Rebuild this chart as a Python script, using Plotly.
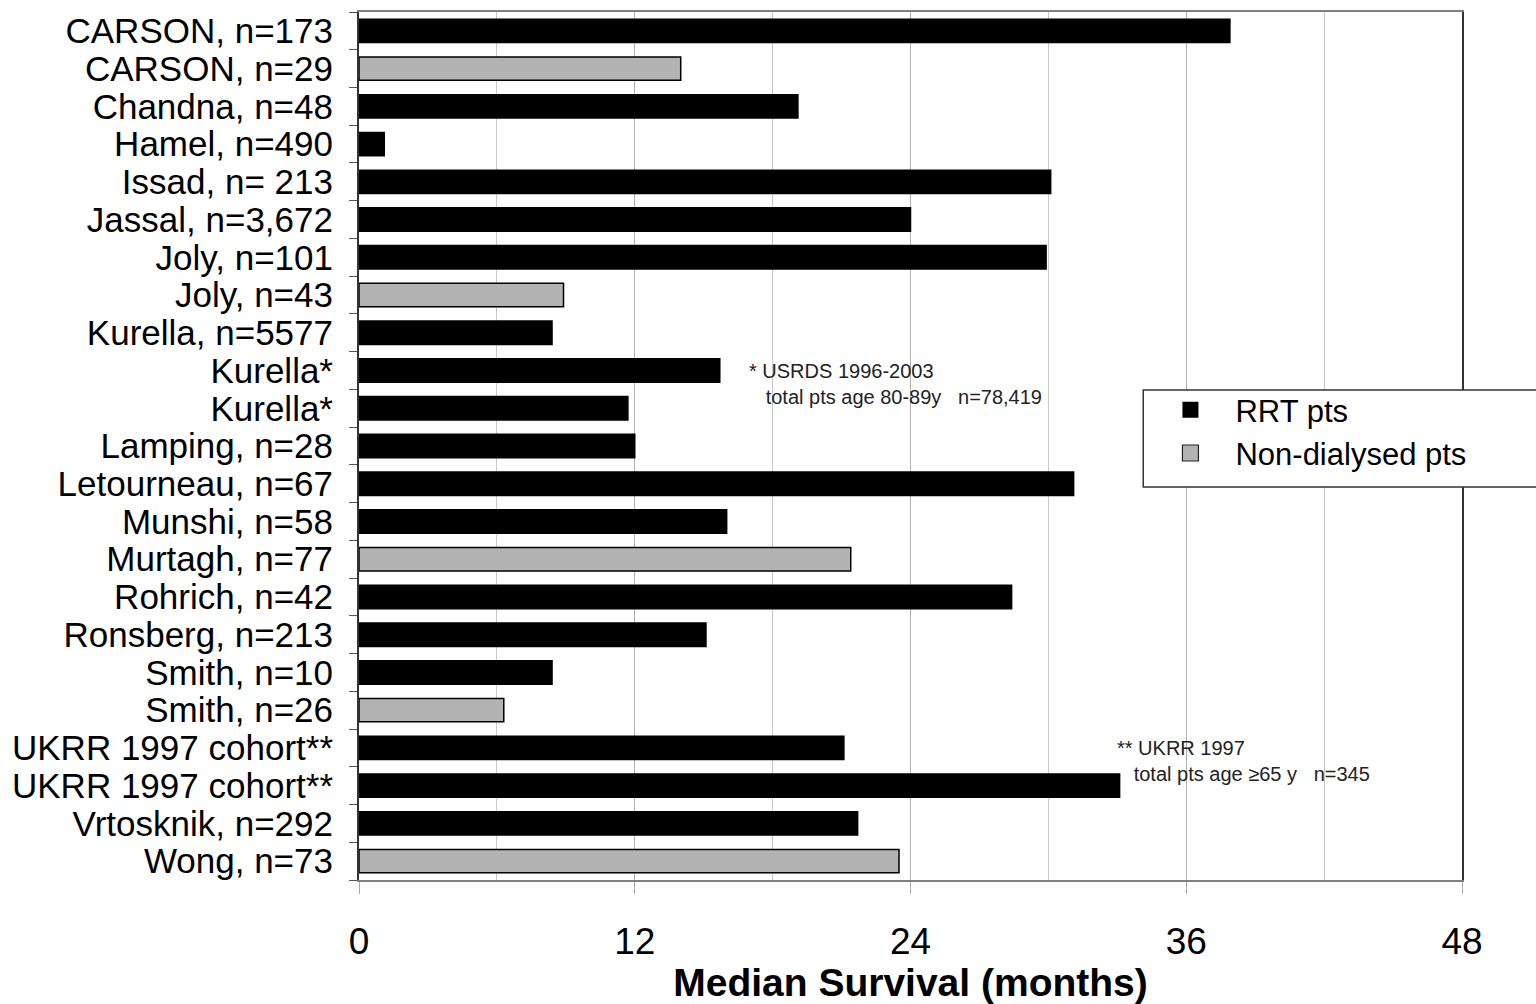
import plotly.graph_objects as go

labels = ["CARSON, n=173", "CARSON, n=29", "Chandna, n=48", "Hamel, n=490", "Issad, n= 213",
          "Jassal, n=3,672", "Joly, n=101", "Joly, n=43", "Kurella, n=5577", "Kurella*",
          "Kurella*", "Lamping, n=28", "Letourneau, n=67", "Munshi, n=58", "Murtagh, n=77",
          "Rohrich, n=42", "Ronsberg, n=213", "Smith, n=10", "Smith, n=26", "UKRR 1997 cohort**",
          "UKRR 1997 cohort**", "Vrtosknik, n=292", "Wong, n=73"]
survival = [37.9, 14.0, 19.1, 1.1, 30.1, 24.0, 29.9, 8.9, 8.4, 15.7,
            11.7, 12.0, 31.1, 16.0, 21.4, 28.4, 15.1, 8.4, 6.3, 21.1,
            33.1, 21.7, 23.5]
group = ["RRT", "ND", "RRT", "RRT", "RRT", "RRT", "RRT", "ND", "RRT", "RRT",
         "RRT", "RRT", "RRT", "RRT", "ND", "RRT", "RRT", "RRT", "ND", "RRT",
         "RRT", "RRT", "ND"]
x_ticks = [0, 12, 24, 36, 48]
legend_names = {"RRT": "RRT pts", "ND": "Non-dialysed pts"}
note1 = "* USRDS 1996-2003<br>&nbsp;&nbsp;&nbsp;total pts age 80-89y &nbsp;&nbsp;n=78,419"
note2 = "** UKRR 1997<br>&nbsp;&nbsp;&nbsp;total pts age \u226565 y &nbsp;&nbsp;n=345"

colors = {"RRT": "#000000", "ND": "#b3b3b3"}

# make duplicate category labels unique with zero-width spaces
seen = {}
cats = []
for lab in labels:
    k = seen.get(lab, 0)
    cats.append(lab + "\u200b" * k)
    seen[lab] = k + 1

FONT = "Liberation Sans, Arial, Helvetica, sans-serif"

fig = go.Figure()
fig.add_trace(go.Bar(
    x=survival, y=cats, orientation="h",
    marker=dict(color=[colors[g] for g in group], line=dict(color="#000000", width=1.5)),
    width=0.62, showlegend=False,
))
for g in ["RRT", "ND"]:
    fig.add_trace(go.Scatter(
        x=[None], y=[None], mode="markers", name=legend_names[g],
        marker=dict(symbol="square", size=16, color=colors[g],
                    line=dict(color="#222222", width=1.2 if g == "ND" else 0)),
    ))

fig.update_layout(
    width=1536, height=1004,
    margin=dict(l=359, r=74, t=12, b=124, autoexpand=False),
    plot_bgcolor="white", paper_bgcolor="white",
    font=dict(family=FONT, color="black"),
    legend=dict(x=0.713, y=0.5725, xanchor="left", yanchor="top",
                borderwidth=0, bgcolor="rgba(0,0,0,0)",
                font=dict(size=31, family=FONT), itemsizing="trace", itemwidth=80,
                tracegroupgap=0),
    shapes=[
        dict(type="rect", xref="paper", yref="paper", x0=0.711, x1=1.1, y0=0.4528, y1=0.5645,
             line=dict(color="#333333", width=1.5), fillcolor="white", layer="above"),
    ],
    annotations=[
        dict(x=16.9, y=0.571, xref="x", yref="paper", text=note1, showarrow=False,
             xanchor="left", yanchor="middle", align="left",
             font=dict(size=20, family=FONT, color="#222222")),
        dict(x=32.9, y=0.137, xref="x", yref="paper", text=note2, showarrow=False,
             xanchor="left", yanchor="middle", align="left",
             font=dict(size=20, family=FONT, color="#222222")),
    ],
)

fig.update_xaxes(
    range=[0, 48], tickvals=x_ticks, ticks="outside", ticklen=12, tickcolor="#aaaaaa",
    tickfont=dict(size=37, family=FONT), ticklabelstandoff=16,
    showgrid=True, gridcolor="#b0b0b0", gridwidth=1.2,
    minor=dict(dtick=6, showgrid=True, gridcolor="#c8c8c8", gridwidth=1.2),
    showline=True, linecolor="#808080", linewidth=2, mirror=True, zeroline=False,
    title=dict(text="<b>Median Survival (months)</b>", font=dict(size=39, family=FONT), standoff=4),
)
fig.update_yaxes(
    type="category", categoryorder="array", categoryarray=cats, autorange="reversed",
    tickmode="array", tickvals=cats, ticktext=labels,
    ticks="outside", ticklen=8, tickcolor="#555555", tickson="boundaries",
    tickfont=dict(size=35, family=FONT), ticklabelstandoff=17,
    showline=True, linecolor="#333333", linewidth=2, mirror=True, showgrid=False,
)

fig.write_html("out.html")
